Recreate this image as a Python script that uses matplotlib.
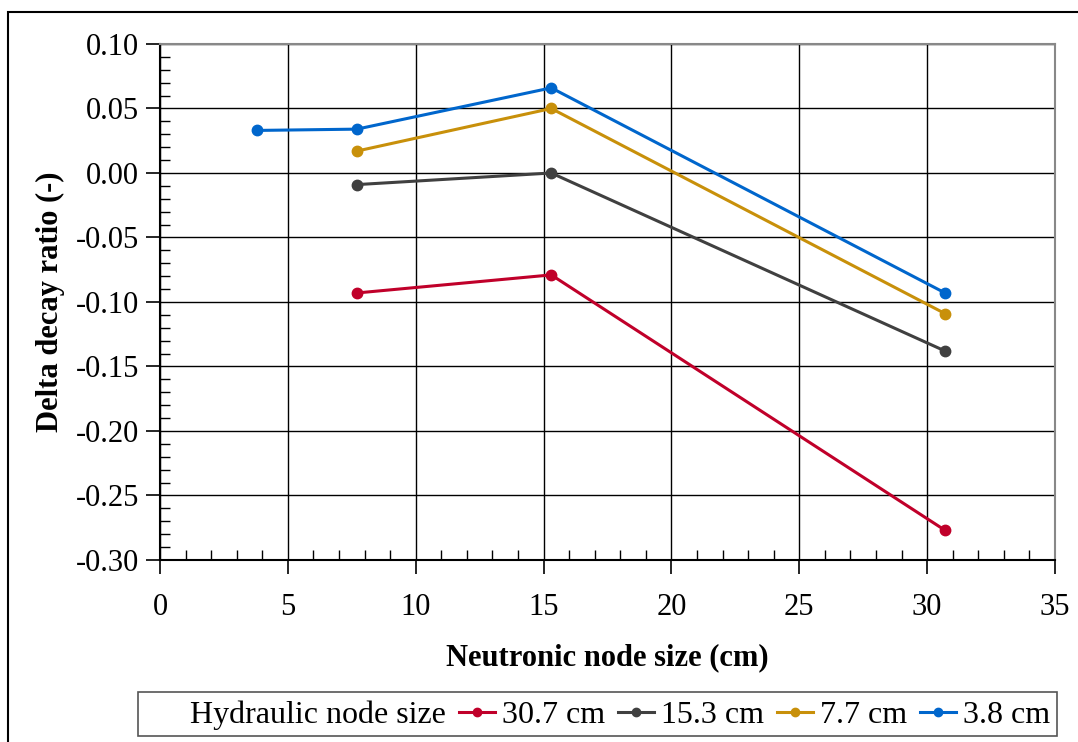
import numpy as np
import matplotlib.pyplot as plt
from matplotlib.ticker import MultipleLocator, FormatStrFormatter
from matplotlib.patches import Rectangle
from matplotlib.lines import Line2D

plt.rcParams['font.family'] = ['Liberation Serif', 'DejaVu Serif']

# neutronic node size (cm) and delta decay ratio per hydraulic node size
x_307 = [7.7, 15.3, 30.7]
y_307 = [-0.093, -0.079, -0.277]
x_153 = [7.7, 15.3, 30.7]
y_153 = [-0.009, 0.000, -0.138]
x_77 = [7.7, 15.3, 30.7]
y_77 = [0.017, 0.050, -0.109]
x_38 = [3.8, 7.7, 15.3, 30.7]
y_38 = [0.033, 0.034, 0.066, -0.093]

labels = ['30.7 cm', '15.3 cm', '7.7 cm', '3.8 cm']
colors = ['#C0002A', '#404040', '#C8900A', '#0066CC']

fig = plt.figure(figsize=(10.78, 7.42), dpi=100)
ax = fig.add_axes([0.1484, 0.2453, 0.8303, 0.6954])

series = [(x_307, y_307), (x_153, y_153), (x_77, y_77), (x_38, y_38)]
for (xs, ys), lab, c in zip(series, labels, colors):
    ax.plot(xs, ys, '-o', color=c, lw=2.2, ms=7.5, label=lab, zorder=3)

ax.set_xlim(0, 35)
ax.set_ylim(-0.30, 0.10)
ax.xaxis.set_major_locator(MultipleLocator(5))
ax.xaxis.set_minor_locator(MultipleLocator(1))
ax.yaxis.set_major_locator(MultipleLocator(0.05))
ax.yaxis.set_minor_locator(MultipleLocator(0.01))
ax.yaxis.set_major_formatter(FormatStrFormatter('%.2f'))
ax.grid(True, which='major', color='black', lw=1.0)
ax.set_axisbelow(True)

ax.tick_params(which='major', direction='out', length=10, width=1.2,
               labelsize=22)
ax.tick_params(axis='x', which='major', pad=14)
ax.tick_params(axis='y', which='major', pad=5)
ax.tick_params(which='minor', direction='in', length=7, width=1.0)
for s in ['top', 'right']:
    ax.spines[s].set_color('#888888')
    ax.spines[s].set_linewidth(1.5)
for s in ['left', 'bottom']:
    ax.spines[s].set_color('black')
    ax.spines[s].set_linewidth(1.5)

ax.set_xlabel('Neutronic node size (cm)', fontsize=22, fontweight='bold', labelpad=15)
ax.set_ylabel('Delta decay ratio (-)', fontsize=22, fontweight='bold', labelpad=8)

# outer chart border
fig.patches.append(Rectangle((8 / 1078, -0.01), 1.0, 1 - 12 / 742 + 0.01,
                             transform=fig.transFigure, fill=False,
                             ec='black', lw=1.5))

# legend box at the bottom
fig.patches.append(Rectangle((138 / 1078, 6 / 742), (1057 - 138) / 1078, 44 / 742,
                             transform=fig.transFigure, fill=False,
                             ec='#555555', lw=1.2))
fig.text(190 / 1078, 27 / 742, 'Hydraulic node size', fontsize=23,
         ha='left', va='center')
handles = [Line2D([], [], color=c, marker='o', lw=2.2, ms=6) for c in colors]
fig.legend(handles, labels, loc='center left', bbox_to_anchor=(459 / 1078, 27 / 742),
           ncol=4, frameon=False, fontsize=23, handlelength=1.13,
           handletextpad=0.22, columnspacing=0.4, borderaxespad=0, borderpad=0)

fig.savefig('out.png', dpi=100)
